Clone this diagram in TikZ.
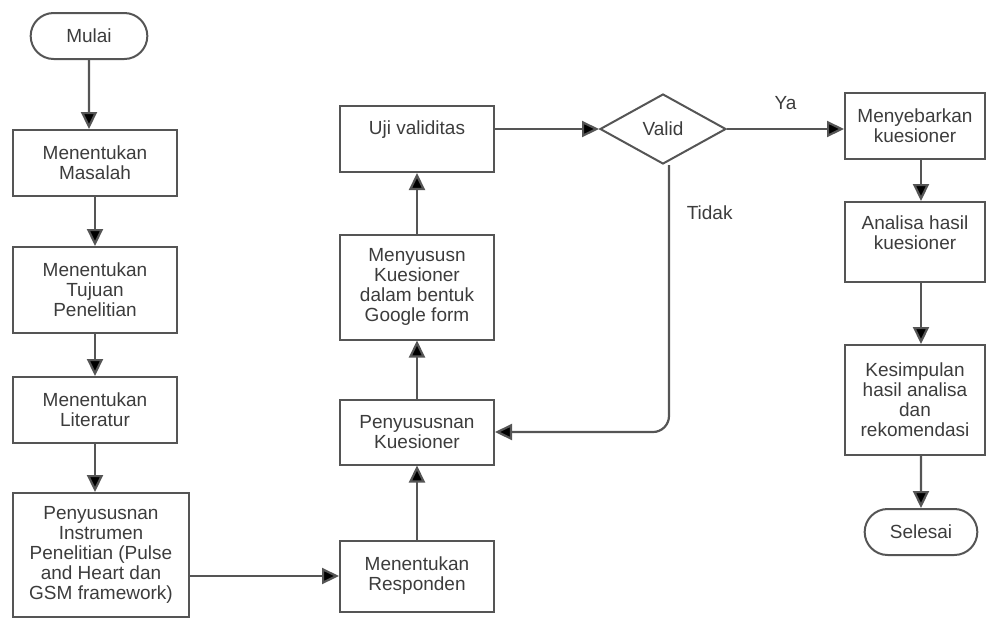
\documentclass[tikz,border=0pt]{standalone}
\usepackage{fontspec}
\setmainfont{Liberation Sans}
\usepackage{xcolor}
\usetikzlibrary{positioning, arrows.meta, shapes.geometric, shapes.misc}

\definecolor{garis}{HTML}{555555}
\definecolor{teks}{HTML}{3C3C3C}

\begin{document}
\begin{tikzpicture}[x=0.5pt, y=-0.5pt,
        every node/.style={font=\fontsize{9.5}{10}\selectfont, text=teks},
        box/.style={rectangle, draw=garis, line width=1pt, align=center, inner sep=2pt, minimum width=82pt},
        term/.style={rounded rectangle, draw=garis, line width=1pt, minimum width=65pt, minimum height=23pt},
        keputusan/.style={diamond, draw=garis, line width=1pt, minimum width=63pt, minimum height=35pt, inner sep=0pt},
        panah/.style={draw=garis, line width=1.1pt, -{Triangle[width=8pt, length=8.5pt, fill=black]}}]
                    \useasboundingbox (0, 0) rectangle (987, 618);

                    \node[term] (mulai) at (89, 36) {Mulai};
                    \node[box, minimum height=33pt] (masalah) at (95, 163) {Menentukan\\Masalah};
                    \node[box, minimum height=43pt] (tujuan) at (95, 290) {Menentukan\\Tujuan\\Penelitian};
                    \node[box, minimum height=33pt] (literatur) at (95, 410) {Menentukan\\Literatur};
                    \node[box, minimum width=88pt, minimum height=62pt] (instrumen) at (101, 555) {Penyususnan\\Instrumen\\Penelitian (Pulse\\and Heart dan\\GSM framework)};

                    \node[box, minimum width=77pt, minimum height=35.5pt] (responden) at (417, 576) {Menentukan\\Responden};
                    \node[box, minimum width=77pt, minimum height=32.5pt] (kuesioner) at (417, 432) {Penyususnan\\Kuesioner};
                    \node[box, minimum width=77pt, minimum height=52.5pt] (gform) at (417, 287) {Menyususn\\Kuesioner\\dalam bentuk\\Google form};
                    \node[box, minimum width=77pt, minimum height=33pt, text depth=11pt] (uji) at (417, 139) {Uji validitas};

                    \node[keputusan] (valid) at (663, 129) {Valid};

                    \node[box, minimum width=70pt, minimum height=33pt] (sebar) at (915, 126) {Menyebarkan\\kuesioner};
                    \node[box, minimum width=70pt, minimum height=40pt, text depth=9pt] (analisa) at (915, 242) {Analisa hasil\\kuesioner};
                    \node[box, minimum width=70pt, minimum height=55pt] (simpulan) at (915, 400) {Kesimpulan\\hasil analisa\\dan\\rekomendasi};
                    \node[term, minimum width=63pt] (selesai) at (921, 532) {Selesai};

                    \draw[panah] (mulai) -- (mulai |- masalah.north);
                    \draw[panah] (masalah) -- (tujuan);
                    \draw[panah] (tujuan) -- (literatur);
                    \draw[panah] (literatur) -- (literatur |- instrumen.north);
                    \draw[panah] (instrumen.east |- responden) -- (responden);
                    \draw[panah] (responden) -- (kuesioner);
                    \draw[panah] (kuesioner) -- (gform);
                    \draw[panah] (gform) -- (uji);
                    \draw[panah] (uji.east |- valid) -- (valid.west);
                    \draw[panah] (valid.east) -- node[above=6pt] (ya) {Ya} (valid.east -| sebar.west);
                    \draw[panah, rounded corners=8pt] ([xshift=3pt]valid.south) |- node[right=5pt, pos=0.09] (tidak) {Tidak} (kuesioner.east);
                    \draw[panah] (sebar.south -| selesai) -- (analisa.north -| selesai);
                    \draw[panah] (analisa.south -| selesai) -- (simpulan.north -| selesai);
                    \draw[panah] (simpulan.south -| selesai) -- (selesai);
                \end{tikzpicture}
\end{document}
